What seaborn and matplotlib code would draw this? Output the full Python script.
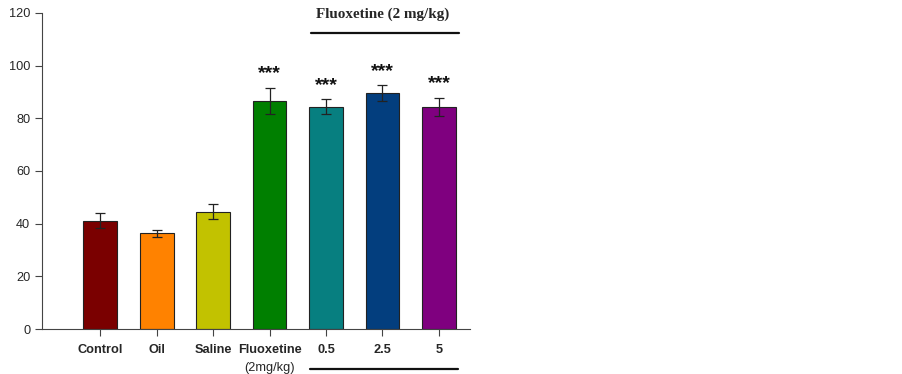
import matplotlib
matplotlib.use("Agg")
import matplotlib.pyplot as plt
import matplotlib.transforms as mtransforms
import seaborn as sns
import pandas as pd

groups = ["Control", "Oil", "Saline", "Fluoxetine", "0.5", "2.5", "5"]
means = [41.2, 36.3, 44.6, 86.6, 84.4, 89.6, 84.4]
errors = [2.8, 1.2, 2.9, 4.9, 2.8, 2.9, 3.5]
stars = ["", "", "", "***", "***", "***", "***"]
colors = ["#7a0000", "#ff8200", "#c2c200", "#007f00", "#077f80", "#033e7e", "#7f007f"]

df = pd.DataFrame({"group": groups, "mean": means})

sns.set_style("ticks")
plt.rcParams["font.family"] = ["Liberation Sans", "DejaVu Sans"]

fig = plt.figure(figsize=(9.03, 3.74), dpi=100)
ax = fig.add_axes([0.0465, 0.1203, 0.474, 0.845])

sns.barplot(data=df, x="group", y="mean", hue="group", palette=colors,
            legend=False, width=0.6, edgecolor="#222222", linewidth=0.8,
            saturation=1, ax=ax)
ax.errorbar(range(len(groups)), means, yerr=errors, fmt="none",
            ecolor="#222222", elinewidth=0.9, capsize=3.6, capthick=0.9)

# significance stars
for i, s in enumerate(stars):
    if s:
        ax.text(i, means[i] + errors[i] + 5.4, s, ha="center", va="center",
                fontsize=14, fontweight="bold", color="#111111")

ax.set_xlim(-1.03, 6.55)
ax.set_ylim(0, 120)
ax.set_yticks(range(0, 121, 20))
ax.set_xlabel("")
ax.set_ylabel("")
ax.set_xticks(range(len(groups)))
ax.set_xticklabels(groups, fontweight="bold", fontsize=9.2)
ax.tick_params(axis="y", labelsize=9.2, length=5, width=0.8, color="#444444")
ax.tick_params(axis="x", length=5, width=0.8, color="#444444", pad=6)
for sp in ["top", "right"]:
    ax.spines[sp].set_visible(False)
for sp in ["left", "bottom"]:
    ax.spines[sp].set_color("#444444")
    ax.spines[sp].set_linewidth(0.8)

trans = mtransforms.blended_transform_factory(ax.transData, ax.transAxes)
ax.text(3, -0.105, "(2mg/kg)", transform=trans, ha="center", va="top", fontsize=9.2)

# dose group bracket
ax.text(5.0, 119.6, "Fluoxetine (2 mg/kg)", ha="center", va="center",
        fontsize=10.9, fontweight="bold", family=["Liberation Serif"], clip_on=False)
ax.plot([3.74, 6.36], [112.4, 112.4], color="#111111", lw=1.6, clip_on=False)
ax.plot([3.72, 6.33], [-0.127, -0.127], color="#111111", lw=1.6,
        transform=trans, clip_on=False)

fig.savefig("out.png", dpi=100)
